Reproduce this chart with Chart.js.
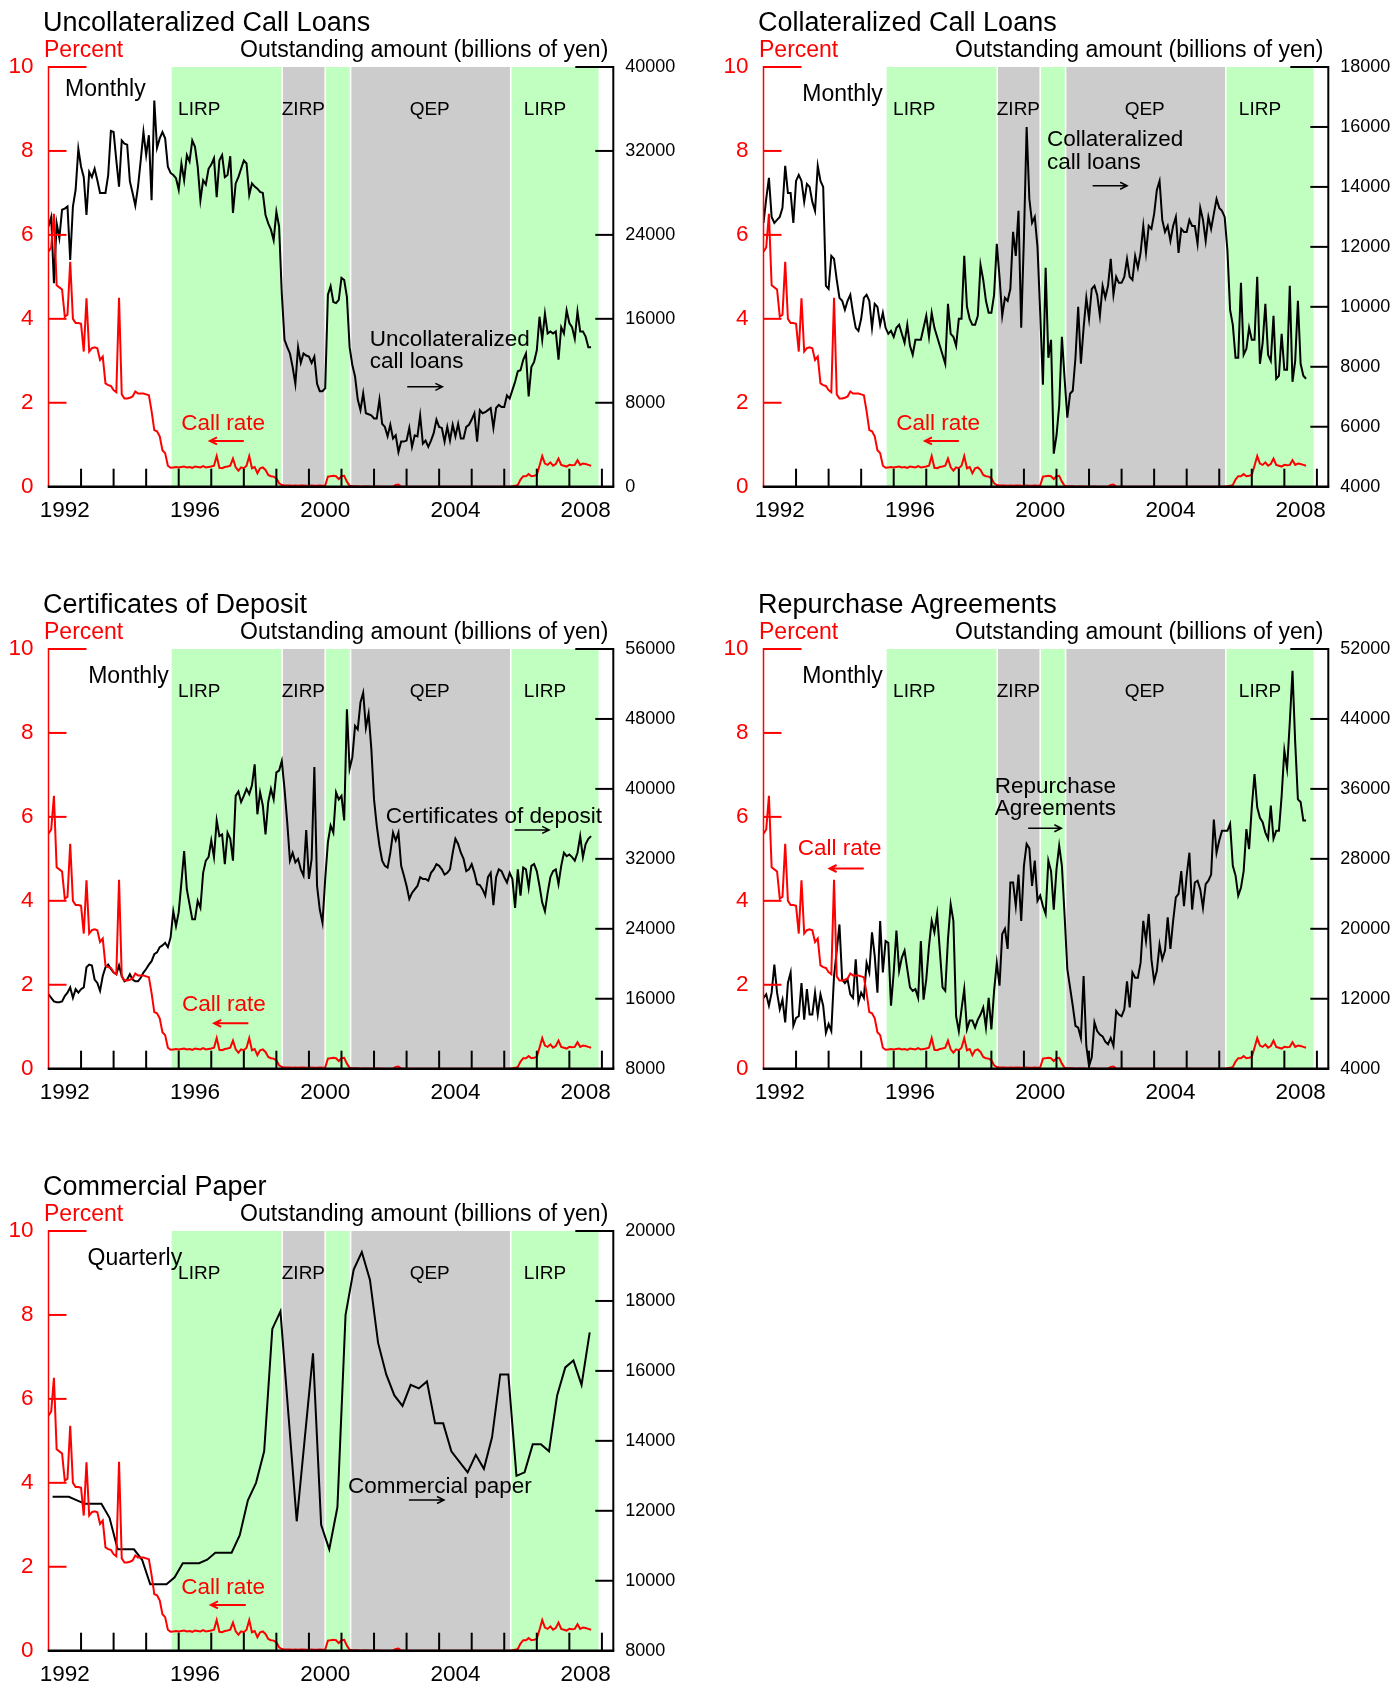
<!DOCTYPE html>
<html>
<head>
<meta charset="utf-8">
<script src="https://cdn.jsdelivr.net/npm/chart.js@4.4.1/dist/chart.umd.min.js"></script>
<style>
  html, body { margin: 0; padding: 0; background: #fff; overflow: hidden; }
  .panel { position: absolute; }
</style>
</head>
<body>
<div class="panel" style="left:0;top:0;width:697px;height:540px"><canvas id="c1"></canvas></div>
<div class="panel" style="left:715px;top:0;width:680px;height:540px"><canvas id="c2"></canvas></div>
<div class="panel" style="left:0;top:582px;width:697px;height:540px"><canvas id="c3"></canvas></div>
<div class="panel" style="left:715px;top:582px;width:680px;height:540px"><canvas id="c4"></canvas></div>
<div class="panel" style="left:0;top:1164px;width:697px;height:518px"><canvas id="c5"></canvas></div>
<script>
// monthly from Jan 1992, percent
const callRate = [
  5.6, 5.7, 6.5, 4.8, 4.75, 4.7, 4.05, 4.1, 5.36, 4.0, 3.9, 3.9,
  3.88, 3.22, 4.49, 3.22, 3.3, 3.32, 3.3, 3.02, 3.1, 2.46, 2.42, 2.4,
  2.3, 2.25, 4.5, 2.2, 2.1, 2.1, 2.12, 2.15, 2.27, 2.22, 2.22, 2.22,
  2.2, 2.18, 1.8, 1.35, 1.32, 1.2, 0.87, 0.8, 0.5, 0.45, 0.46, 0.47,
  0.46, 0.47, 0.48, 0.46, 0.47, 0.45, 0.48, 0.47, 0.46, 0.49, 0.46, 0.47,
  0.48, 0.5, 0.73, 0.45, 0.44, 0.47, 0.48, 0.5, 0.67, 0.46, 0.38, 0.46,
  0.44, 0.5, 0.73, 0.44, 0.47, 0.32, 0.44, 0.46, 0.4, 0.28, 0.25, 0.24,
  0.2, 0.08, 0.04, 0.03, 0.03, 0.03, 0.02, 0.03, 0.02, 0.03, 0.03, 0.02,
  0.02, 0.03, 0.02, 0.02, 0.03, 0.02, 0.03, 0.24, 0.25, 0.26, 0.25, 0.18,
  0.25, 0.26, 0.12, 0.02, 0.01, 0.01, 0.01, 0.001, 0.002, 0.002, 0.002, 0.001,
  0.001, 0.002, 0.002, 0.001, 0.001, 0.001, 0.001, 0.001, 0.04, 0.05, 0.001, 0.001,
  0.001, 0.001, 0.001, 0.001, 0.001, 0.001, 0.001, 0.001, 0.001, 0.001, 0.001, 0.001,
  0.001, 0.001, 0.001, 0.001, 0.001, 0.001, 0.001, 0.001, 0.001, 0.001, 0.001, 0.001,
  0.001, 0.001, 0.001, 0.001, 0.001, 0.001, 0.001, 0.001, 0.001, 0.001, 0.001, 0.001,
  0.001, 0.001, 0.003, 0.01, 0.02, 0.04, 0.17, 0.25, 0.25, 0.3, 0.25, 0.26,
  0.28, 0.5, 0.73, 0.55, 0.52, 0.58, 0.5, 0.54, 0.67, 0.52, 0.5, 0.48,
  0.52, 0.51, 0.52, 0.63, 0.52, 0.55, 0.54, 0.52, 0.5
];

// outstanding amounts, billions of yen, monthly from Jan 1992
const uncollateralized = [
  24800, 25700, 19400, 25100, 23700, 26400, 26500, 26700, 21600, 26700, 28300, 32200,
  30500, 29500, 25900, 30000, 29500, 30300, 29200, 28000, 28000, 28000, 29700, 33900,
  33800, 31100, 28600, 33000, 32700, 32600, 29100, 28000, 26800, 28600, 31100, 33800,
  31600, 33500, 27300, 36800, 32300, 33200, 33800, 33200, 30500, 29900, 29700, 29400,
  28300, 30800, 29200, 31600, 31000, 33000, 32400, 30500, 27300, 29200, 28800, 30300,
  30700, 31300, 27600, 31100, 31600, 29500, 29700, 31500, 26100, 28900, 29500, 30300,
  31100, 30800, 27800, 28900, 28600, 28400, 28100, 28000, 25900, 25100, 24500, 23500,
  26200, 24800, 18400, 14000, 13300, 12700, 11400, 9800, 13300, 11800, 12700, 12500,
  12400, 11800, 12400, 9800, 9100, 9100, 9400, 18300, 19100, 17600, 17500, 17800,
  19900, 19700, 18100, 13300, 11600, 10500, 8300, 7300, 8900, 7000, 6900, 6800,
  6500, 6500, 8300, 6000, 5700, 4800, 5900, 4600, 4900, 3300, 4300, 4300,
  4400, 5600, 3800, 4900, 4800, 6800, 4100, 4400, 3800, 4400, 5100, 6400,
  5700, 5600, 4300, 5700, 4400, 5900, 4800, 6000, 4600, 4600, 5700, 5900,
  6400, 7000, 4300, 7300, 7000, 7100, 7300, 7500, 5600, 7500, 7800, 7600,
  7600, 8700, 8400, 9200, 10000, 11000, 11100, 12100, 12700, 8600, 11400, 11900,
  13000, 16200, 14000, 16500, 14600, 14800, 14600, 14800, 12100, 15200, 14600, 16800,
  15600, 15200, 14100, 16700, 14800, 14800, 14300, 13300, 13300
];
const collateralized = [
  12800, 13600, 14300, 13000, 12800, 12900, 13000, 13300, 14700, 13800, 13800, 12800,
  14200, 14400, 14200, 13500, 14100, 14000, 13500, 13200, 14700, 14200, 14000, 10700,
  10600, 11700, 11600, 10900, 10300, 10200, 9900, 10200, 10400, 9800, 9300, 9200,
  9600, 10300, 10400, 10200, 9300, 10100, 10000, 9400, 9800, 9300, 9100, 9200,
  9000, 9300, 9400, 9100, 8800, 9400, 8700, 8400, 8900, 8900, 8900, 9300,
  9700, 9000, 9800, 9300, 9000, 8700, 8400, 8100, 10100, 9100, 9000, 8700,
  9600, 9600, 11700, 10000, 9600, 9400, 9400, 9700, 11400, 10900, 10200, 9800,
  9800, 10400, 12100, 11000, 9700, 10300, 10200, 10600, 12500, 11700, 13200, 9300,
  12300, 16000, 13600, 12800, 13000, 12000, 9800, 7400, 11300, 8300, 8900, 5100,
  5700, 6700, 9000, 7600, 6300, 7100, 7200, 8300, 10000, 8100, 9300, 10300,
  9600, 10600, 10700, 10400, 9700, 10700, 10300, 10700, 11600, 10400, 11000, 10800,
  10800, 11000, 11600, 11000, 10900, 11700, 11300, 11800, 12700, 11800, 12700, 12600,
  13100, 13900, 14200, 12900, 12500, 12700, 12200, 12700, 13000, 11800, 12600, 12500,
  12500, 12900, 12700, 12700, 12100, 13300, 12900, 12200, 13000, 12600, 13100, 13600,
  13300, 13200, 13000, 11900, 9900, 9400, 8300, 8300, 10800, 8400, 8600, 9300,
  8900, 8900, 11000, 8100, 8800, 10100, 8400, 8200, 9700, 7600, 7700, 9100,
  7900, 7900, 10700, 7500, 8200, 10200, 8100, 7700, 7600
];
const certificates = [
  16500, 16100, 15700, 15600, 15600, 15700, 16300, 16700, 17300, 16100, 17100, 16700,
  17100, 17300, 19600, 19900, 19800, 18200, 17800, 16900, 18600, 19600, 19900, 19400,
  19000, 18800, 19800, 18600, 18000, 18200, 18800, 18200, 18000, 18000, 18400, 19000,
  19400, 19900, 20300, 21100, 21300, 21900, 22100, 22400, 21900, 23000, 26000, 24300,
  25900, 29300, 32900, 28500, 26800, 25100, 25100, 27200, 26400, 30400, 31800, 32200,
  34100, 32200, 36400, 34600, 34800, 31400, 35000, 34300, 31800, 39200, 39700, 38500,
  39200, 40000, 39400, 40400, 42800, 37100, 39600, 38100, 34800, 38500, 40000, 38800,
  41900, 42100, 43200, 40000, 36200, 31800, 32700, 31600, 32000, 30800, 30100, 35300,
  29700, 32000, 42500, 28900, 26200, 24700, 29700, 33900, 35800, 35000, 39600, 38800,
  39200, 36400, 49100, 42300, 43600, 47200, 46800, 49900, 51000, 47000, 48600, 44600,
  38800, 35800, 33500, 31800, 31200, 31000, 32700, 35000, 34100, 35000, 31200, 30100,
  28900, 27400, 28100, 28500, 28900, 29900, 29700, 29700, 29500, 30400, 30800, 31400,
  31200, 30800, 30200, 30400, 30800, 32700, 34300, 33700, 32700, 32000, 30600, 30800,
  31400, 30400, 29100, 29000, 28500, 27800, 29900, 30400, 26700, 29900, 30800, 30600,
  29900, 29300, 30400, 29700, 26400, 30800, 27800, 31000, 30800, 28700, 31200, 31400,
  30600, 28900, 27000, 26000, 28100, 29900, 30600, 30800, 29100, 31200, 32700, 32300,
  32500, 32200, 31800, 32700, 34600, 32200, 33700, 34300, 34600
];
const repurchase = [
  12100, 12500, 11200, 12700, 15900, 12700, 10800, 11900, 9300, 13800, 15000, 8900,
  9800, 10000, 13800, 9600, 13100, 10200, 10200, 12700, 10200, 12500, 11200, 8100,
  9100, 8300, 14600, 17500, 20500, 14200, 13800, 14200, 12500, 12100, 16500, 11600,
  12700, 12100, 16100, 15000, 19600, 16900, 12700, 20900, 15000, 18600, 18400, 11200,
  15000, 19800, 15200, 16700, 17500, 15400, 13300, 12900, 13100, 12100, 18600, 11900,
  14200, 18000, 20900, 19600, 21700, 17500, 13300, 12900, 18800, 22800, 20900, 10000,
  8300, 10800, 13100, 8500, 9500, 9500, 8700, 9600, 10200, 11000, 8700, 12100,
  8500, 12900, 16100, 13500, 19400, 20000, 17700, 25300, 25300, 22600, 26200, 20900,
  27200, 29700, 29200, 24900, 27800, 23200, 23800, 22600, 21700, 27800, 26600, 22200,
  26800, 29500, 27200, 21500, 15400, 13300, 11200, 8900, 8700, 7500, 14600, 6600,
  4300, 5300, 9300, 8300, 7900, 7700, 7100, 6800, 7500, 6600, 10600, 10200,
  10000, 10800, 14000, 11000, 15000, 14400, 14400, 16100, 20900, 18600, 21700, 16500,
  14000, 15200, 18200, 16500, 17500, 21300, 17700, 20900, 23600, 24000, 26600, 22600,
  26100, 28700, 22200, 25300, 25500, 24500, 22400, 25100, 25500, 26200, 32500, 28700,
  30100, 31200, 31200, 31200, 32000, 27200, 26100, 23800, 24700, 26600, 31400, 29100,
  33900, 37700, 33900, 32700, 32200, 31000, 30300, 34100, 30300, 31200, 31200, 35200,
  40400, 38300, 43600, 49500, 41300, 34800, 34500, 32400, 32400
];
// quarterly, first quarter of 1992 onwards
const commercialPaper = [
  12400, 12400, 12400, 12300, 12200, 12200, 12200, 11800, 10900, 10900,
  10900, 10600, 9900, 9900, 9900, 10100, 10500, 10500, 10500, 10600,
  10800, 10800, 10800, 11300, 12300, 12800, 13700, 17200, 17700, 14700,
  11700, 14100, 16500, 11600, 10900, 12100, 17600, 18900, 19400, 18600,
  16800, 15900, 15300, 15000, 15600, 15500, 15700, 14500, 14500, 13700,
  13400, 13100, 13600, 13200, 14100, 15900, 15900, 13000, 13100, 13900,
  13900, 13700, 15300, 16100, 16300, 15600, 17100
];

// policy regimes (decimal years)
const regimeNames  = ['LIRP', 'ZIRP', '', 'QEP', 'LIRP'];
const regimeStarts = [1995.76, 1999.18, 2000.5, 2001.28, 2006.2];
const regimeEnds   = [1999.18, 2000.5, 2001.28, 2006.2, 2008.92];
const regimeKinds  = ['green', 'grey', 'green', 'grey', 'green'];
const regimeLabelAt = [1996.63, 1999.83, null, 2003.71, 2007.25];

// tick labels
const percentTicks = [0, 2, 4, 6, 8, 10];
const yearLabels = [1992, 1996, 2000, 2004, 2008];
const uncollTicks = [0, 8000, 16000, 24000, 32000, 40000];
const collTicks = [4000, 6000, 8000, 10000, 12000, 14000, 16000, 18000];
const cdTicks = [8000, 16000, 24000, 32000, 40000, 48000, 56000];
const repoTicks = [4000, 12000, 20000, 28000, 36000, 44000, 52000];
const cpTicks = [8000, 10000, 12000, 14000, 16000, 18000, 20000];

const FONT = "'Liberation Sans', Arial, Helvetica, sans-serif";
const RED = '#ff0000';
const FILLS = { green: '#c0ffc0', grey: '#cccccc' };
const X_MIN = 1992, X_MAX = 2009.35;
const AREA_RIGHT = 613.3, AREA_BOTTOM = 486.7;

Chart.defaults.font.family = FONT;

const monthX = i => 1992 + i / 12;
const quarterX = k => 1992.125 + k / 4;

const panels = [
  { id: 'c1', w: 697, h: 540, title: 'Uncollateralized Call Loans', values: uncollateralized, xOf: monthX,
    ticks: uncollTicks, freq: 'Monthly', freqAt: [1992.51, 9.47],
    name: ['Uncollateralized', 'call loans'], nameAt: [2001.87, 3.51], arrow: [2003.02, 2004.1, 2.38],
    rateAt: [1996.08, 1.51], rateArrow: [1998.0, 1996.96, 1.09] },
  { id: 'c2', w: 680, h: 540, title: 'Collateralized Call Loans', values: collateralized, xOf: monthX,
    ticks: collTicks, freq: 'Monthly', freqAt: [1993.19, 9.33],
    name: ['Collateralized', 'call loans'], nameAt: [2000.71, 8.26], arrow: [2002.11, 2003.17, 7.17],
    rateAt: [1996.08, 1.51], rateArrow: [1998.0, 1996.96, 1.09] },
  { id: 'c3', w: 697, h: 540, title: 'Certificates of Deposit', values: certificates, xOf: monthX,
    ticks: cdTicks, freq: 'Monthly', freqAt: [1993.22, 9.33],
    name: ['Certificates of deposit'], nameAt: [2002.36, 6.0], arrow: [2006.32, 2007.38, 5.69],
    rateAt: [1996.1, 1.52], rateArrow: [1998.14, 1997.09, 1.08] },
  { id: 'c4', w: 680, h: 540, title: 'Repurchase Agreements', values: repurchase, xOf: monthX,
    ticks: repoTicks, freq: 'Monthly', freqAt: [1993.19, 9.33],
    name: ['Repurchase', 'Agreements'], nameAt: [1999.1, 6.72], arrow: [2000.13, 2001.15, 5.73],
    rateAt: [1993.05, 5.25], rateArrow: [1995.08, 1994.03, 4.77] },
  { id: 'c5', w: 697, h: 518, title: 'Commercial Paper', values: commercialPaper, xOf: quarterX,
    ticks: cpTicks, freq: 'Quarterly', freqAt: [1993.2, 9.34],
    name: ['Commercial paper'], nameAt: [2001.2, 3.91], arrow: [2003.07, 2004.15, 3.59],
    rateAt: [1996.08, 1.51], rateArrow: [1998.06, 1996.99, 1.09] }
];

function seg(ctx, x0, y0, x1, y1) {
  ctx.beginPath(); ctx.moveTo(x0, y0); ctx.lineTo(x1, y1); ctx.stroke();
}

function arrow(ctx, x0, x1, yy, color, lw) {
  const dir = Math.sign(x1 - x0);
  ctx.strokeStyle = color; ctx.lineWidth = lw;
  ctx.beginPath();
  ctx.moveTo(x0, yy); ctx.lineTo(x1, yy);
  ctx.moveTo(x1 - dir * 7, yy - 3.5); ctx.lineTo(x1, yy); ctx.lineTo(x1 - dir * 7, yy + 3.5);
  ctx.stroke();
}

function panelPlugin(p) {
  return {
    id: 'panelDeco',
    beforeDatasetsDraw(chart) {
      const { ctx, chartArea: a, scales: { x, y } } = chart;
      ctx.save();
      regimeStarts.forEach((s, i) => {
        const x0 = x.getPixelForValue(s) + 0.75;
        const x1 = x.getPixelForValue(regimeEnds[i]) - 0.75;
        ctx.fillStyle = FILLS[regimeKinds[i]];
        ctx.fillRect(x0, a.top, x1 - x0, a.bottom - a.top);
      });
      ctx.fillStyle = '#000';
      ctx.font = '19px ' + FONT;
      ctx.textAlign = 'center';
      ctx.textBaseline = 'middle';
      regimeNames.forEach((n, i) => {
        if (n) ctx.fillText(n, x.getPixelForValue(regimeLabelAt[i]), y.getPixelForValue(8.98));
      });
      ctx.restore();
    },
    afterDatasetsDraw(chart) {
      const { ctx, chartArea: a, scales: { x, y, y2 } } = chart;
      const L = a.left, R = a.right, T = a.top, B = a.bottom;
      ctx.save();
      ctx.lineCap = 'butt';
      // left (percent) axis
      ctx.strokeStyle = RED;
      ctx.lineWidth = 1.5;
      seg(ctx, L, B, L, T - 1);
      ctx.lineWidth = 2;
      percentTicks.forEach(v => {
        if (v === 0) return;
        const py = y.getPixelForValue(v);
        seg(ctx, L, py, L + (v === 10 ? 38 : 18), py);
      });
      // right (amount) axis
      ctx.strokeStyle = '#000';
      ctx.lineWidth = 2;
      seg(ctx, R, B, R, T - 1);
      p.ticks.forEach((v, i) => {
        if (i === 0) return;
        const py = y2.getPixelForValue(v);
        seg(ctx, R - (i === p.ticks.length - 1 ? 38 : 18), py, R, py);
      });
      // year ticks
      for (let yr = 1993; yr <= 2009; yr++) {
        const px = x.getPixelForValue(yr);
        seg(ctx, px, B, px, B - 18);
      }
      ctx.lineWidth = 2.5;
      seg(ctx, L - 0.75, B, R + 1, B);

      // annotations
      ctx.textBaseline = 'middle';
      ctx.textAlign = 'left';
      ctx.font = '23px ' + FONT;
      ctx.fillStyle = '#000';
      ctx.fillText(p.freq, x.getPixelForValue(p.freqAt[0]), y.getPixelForValue(p.freqAt[1]));
      ctx.font = '22.5px ' + FONT;
      p.name.forEach((line, i) => {
        ctx.fillText(line, x.getPixelForValue(p.nameAt[0]), y.getPixelForValue(p.nameAt[1]) + i * 22.6);
      });
      arrow(ctx, x.getPixelForValue(p.arrow[0]), x.getPixelForValue(p.arrow[1]), y.getPixelForValue(p.arrow[2]), '#000', 1.5);
      ctx.fillStyle = RED;
      ctx.fillText('Call rate', x.getPixelForValue(p.rateAt[0]), y.getPixelForValue(p.rateAt[1]));
      arrow(ctx, x.getPixelForValue(p.rateArrow[0]), x.getPixelForValue(p.rateArrow[1]), y.getPixelForValue(p.rateArrow[2]), RED, 2);
      ctx.restore();
    },
    afterDraw(chart) {
      const { ctx, chartArea: a } = chart;
      ctx.save();
      ctx.textBaseline = 'middle';
      ctx.textAlign = 'left';
      ctx.fillStyle = '#000';
      ctx.font = '27px ' + FONT;
      ctx.fillText(p.title, a.left - 5.5, a.top - 43.5);
      ctx.font = '23px ' + FONT;
      ctx.fillStyle = RED;
      ctx.fillText('Percent', a.left - 4.5, a.top - 16.7);
      ctx.fillStyle = '#000';
      ctx.textAlign = 'right';
      ctx.fillText('Outstanding amount (billions of yen)', a.right - 5, a.top - 16.7);
      ctx.restore();
    }
  };
}

panels.forEach(p => {
  const rateData = callRate.map((v, i) => ({ x: monthX(i), y: v }));
  const amountData = p.values.map((v, i) => ({ x: p.xOf(i), y: v }));
  new Chart(document.getElementById(p.id), {
    type: 'line',
    data: {
      datasets: [
        { label: 'Call rate', data: rateData, xAxisID: 'x', yAxisID: 'y',
          borderColor: RED, borderWidth: 2, pointRadius: 0, tension: 0, fill: false },
        { label: p.title, data: amountData, xAxisID: 'x', yAxisID: 'y2',
          borderColor: '#000', borderWidth: 2, pointRadius: 0, tension: 0, fill: false }
      ]
    },
    options: {
      responsive: true,
      maintainAspectRatio: false,
      animation: false,
      events: [],
      layout: { padding: { left: 0, right: 0, top: 67, bottom: 0 } },
      plugins: { legend: { display: false }, tooltip: { enabled: false }, title: { display: false } },
      scales: {
        x: { type: 'linear', min: X_MIN, max: X_MAX, display: false },
        xl: {
          type: 'linear', position: 'bottom', min: X_MIN, max: X_MAX,
          afterBuildTicks: s => { s.ticks = yearLabels.map(v => ({ value: v + 0.5 })); },
          afterFit: s => { s.height = p.h - AREA_BOTTOM; },
          grid: { display: false, drawTicks: false },
          border: { display: false },
          ticks: { color: '#000', font: { size: 22.5 }, padding: 11, maxRotation: 0, autoSkip: false,
                   callback: v => String(Math.floor(v)) }
        },
        y: {
          type: 'linear', position: 'left', min: 0, max: 10,
          afterBuildTicks: s => { s.ticks = percentTicks.map(v => ({ value: v })); },
          afterFit: s => { s.width = 48.5; },
          grid: { display: false, drawTicks: false },
          border: { display: false },
          ticks: { color: RED, font: { size: 22.5 }, padding: 15, callback: v => String(v) }
        },
        y2: {
          type: 'linear', position: 'right', min: p.ticks[0], max: p.ticks[p.ticks.length - 1],
          afterBuildTicks: s => { s.ticks = p.ticks.map(v => ({ value: v })); },
          afterFit: s => { s.width = p.w - AREA_RIGHT; },
          grid: { display: false, drawTicks: false },
          border: { display: false },
          ticks: { color: '#000', font: { size: 18 }, padding: 12, callback: v => String(v) }
        }
      }
    },
    plugins: [panelPlugin(p)]
  });
});
</script>
</body>
</html>
